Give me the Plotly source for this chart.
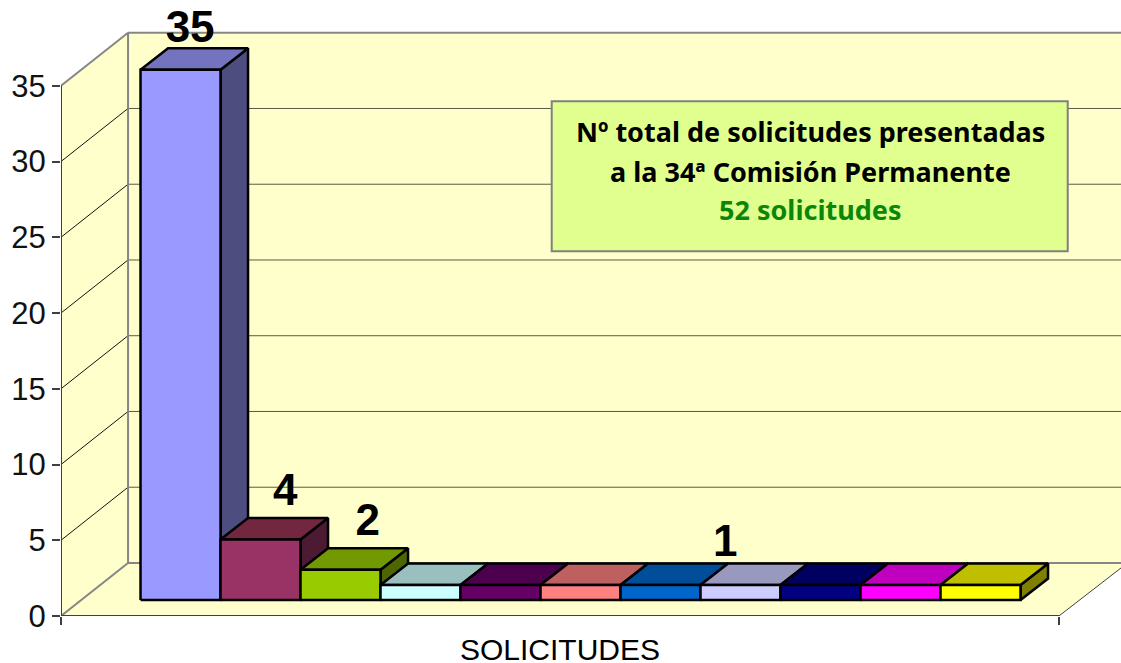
import plotly.graph_objects as go

# ---- data ----
CATEGORY = "SOLICITUDES"
values = [35, 4, 2, 1, 1, 1, 1, 1, 1, 1, 1]
front_colors = ["#9999FF", "#993366", "#99CC00", "#CCFFFF", "#660066", "#FF8080",
                "#0066CC", "#CCCCFF", "#000080", "#FF00FF", "#FFFF00"]
top_colors = ["#7373BF", "#732640", "#739900", "#99BFBF", "#4D004D", "#BF6060",
              "#004D99", "#9999BF", "#000060", "#BF00BF", "#BFBF00"]
side_colors = ["#4D4D80", "#4D1A33", "#4D6600", "#668080", "#330033", "#804040",
               "#003366", "#666680", "#000040", "#800080", "#808000"]
y_ticks = [0, 5, 10, 15, 20, 25, 30, 35]
label_texts = ["35", "4", "2", "1"]
label_x = [0.62, 1.81, 2.84, 7.31]
label_y = [38.6, 8.05, 6.1, 4.7]
box_lines = ["Nº total de solicitudes presentadas",
             "a la 34ª Comisión Permanente",
             "52 solicitudes"]
box_line_colors = ["#000000", "#000000", "#0A870A"]
box_line_y = [31.95, 29.35, 26.8]

# ---- chart frame, in axis units (one bar wide, one value high) ----
X_L, X_R = -0.994, 11.48
X_MAX = 12.256
Y_MAX = 40.66
WALL_DX, WALL_DY = 0.838, 3.5
BAR_DX, BAR_DY = 0.344, 1.42
BAR_BASE = 1.05
WALL = "#FFFFCC"
GRAY = "#868686"
DARK = "#3F3F3F"

fig = go.Figure()


def poly(xs, ys, fill, line="black", width=2.5):
    fig.add_trace(go.Scatter(x=xs, y=ys, mode="lines", fill="toself", fillcolor=fill,
                             line=dict(color=line, width=width), hoverinfo="skip",
                             showlegend=False))


def seg(xs, ys, color, width):
    fig.add_trace(go.Scatter(x=xs, y=ys, mode="lines", line=dict(color=color, width=width),
                             hoverinfo="skip", showlegend=False))


bx = X_L + WALL_DX
# walls and floor
poly([X_L, bx, X_MAX, X_MAX, X_R, X_L], [0, WALL_DY, WALL_DY, 3.17, 0, 0], WALL, WALL, 0)
poly([X_L, X_L, bx, X_MAX, X_MAX, bx, X_L], [0, 35, 35 + WALL_DY, 35 + WALL_DY, WALL_DY, WALL_DY, 0],
     WALL, WALL, 0)
# gridlines
for t in y_ticks[1:-1]:
    seg([X_L, bx], [t, t + WALL_DY], "#111111", 1)
    seg([bx, X_MAX], [t + WALL_DY, t + WALL_DY], "#5A5A40", 1)
# wall edges
seg([X_L, bx], [35, 35 + WALL_DY], GRAY, 2)
seg([X_L, bx], [0, WALL_DY], GRAY, 2)
seg([bx, bx], [WALL_DY, 35 + WALL_DY], GRAY, 2)
seg([bx, X_MAX], [35 + WALL_DY, 35 + WALL_DY], GRAY, 2)
seg([bx, X_MAX], [WALL_DY, WALL_DY], GRAY, 2)
seg([X_R, X_MAX], [0, 3.17], DARK, 1)
seg([X_L, X_L], [0, 35], DARK, 2)
seg([X_L, X_R], [0, 0], DARK, 2)

# bars
for i, v in enumerate(values):
    x0, x1 = i, i + 1
    y0, y1 = BAR_BASE, BAR_BASE + v
    poly([x1, x1 + BAR_DX, x1 + BAR_DX, x1, x1],
         [y0, y0 + BAR_DY, y1 + BAR_DY, y1, y0], side_colors[i])
    poly([x0, x0 + BAR_DX, x1 + BAR_DX, x1, x0],
         [y1, y1 + BAR_DY, y1 + BAR_DY, y1, y1], top_colors[i])
    poly([x0, x1, x1, x0, x0], [y0, y0, y1, y1, y0], front_colors[i])

# data labels
fig.add_trace(go.Scatter(x=label_x, y=label_y, mode="text", text=label_texts,
                         textposition="middle center", hoverinfo="skip", showlegend=False,
                         textfont=dict(family="Liberation Sans", size=44, color="black",
                                       weight="bold")))

# note box
fig.add_shape(type="rect", x0=5.14, x1=11.59, y0=24.07, y1=33.97,
              fillcolor="#E1FF8F", line=dict(color="#808080", width=2), layer="above")
for line, col, yy in zip(box_lines, box_line_colors, box_line_y):
    fig.add_annotation(x=8.37, y=yy, text="<b>%s</b>" % line, showarrow=False,
                       font=dict(family="Noto Sans", size=27, color=col),
                       xanchor="center", yanchor="middle")

# category label
fig.add_annotation(x=(X_L + X_R) / 2, y=-0.0536, xref="x", yref="paper",
                   text=CATEGORY, showarrow=False, xanchor="center", yanchor="middle",
                   font=dict(family="Liberation Sans", size=30, color="black"))

fig.update_layout(
    width=1121, height=663, autosize=False,
    margin=dict(l=61, r=0, t=0, b=47, pad=0),
    paper_bgcolor="white", plot_bgcolor="white",
    showlegend=False,
    xaxis=dict(range=[X_L, X_MAX], tickmode="array", tickvals=[X_L, X_R], ticktext=["", ""],
               ticks="outside", ticklen=8, tickwidth=2, tickcolor=DARK,
               showgrid=False, zeroline=False, showline=False, fixedrange=True),
    yaxis=dict(range=[0, Y_MAX], tickmode="array", tickvals=y_ticks,
               ticktext=[str(t) for t in y_ticks],
               ticks="outside", ticklen=8, tickwidth=2, tickcolor=DARK,
               tickfont=dict(family="Liberation Sans", size=31, color="#111111"),
               showgrid=False, zeroline=False, showline=False, fixedrange=True),
)

fig.write_html("out.html", post_script="document.body.style.margin='0';",
               config={"displayModeBar": False})
